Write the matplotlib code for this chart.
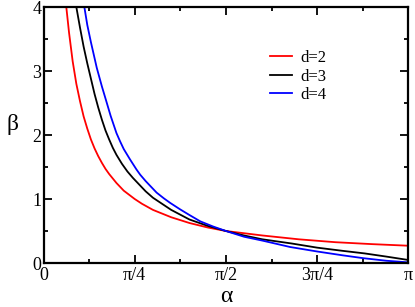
import numpy as np
import matplotlib
matplotlib.use("Agg")
import matplotlib.pyplot as plt
from matplotlib.ticker import MultipleLocator, FixedLocator

# alpha given in units of pi
t_d2 = [0.0625, 0.07, 0.08, 0.09, 0.10, 0.11, 0.12, 0.13, 0.14, 0.15, 0.16, 0.17,
        0.18, 0.20, 0.22, 0.25, 0.27, 0.30, 0.35, 0.40, 0.45, 0.50, 0.60, 0.70,
        0.80, 0.90, 1.00]
beta_d2 = [4.0, 3.6, 3.15, 2.8, 2.53, 2.29, 2.1, 1.93, 1.79, 1.67, 1.565, 1.47,
           1.39, 1.25, 1.13, 1.0, 0.925, 0.83, 0.715, 0.625, 0.555, 0.5, 0.43, 0.37,
           0.325, 0.295, 0.27]

t_d3 = [0.09, 0.10, 0.11, 0.12, 0.13, 0.14, 0.15, 0.16, 0.17, 0.18, 0.19, 0.20,
        0.215, 0.23, 0.245, 0.26, 0.28, 0.30, 0.35, 0.40, 0.45, 0.50, 0.55, 0.60,
        0.68, 0.75, 0.82, 0.88, 0.94, 1.00]
beta_d3 = [4.0, 3.68, 3.38, 3.12, 2.88, 2.64, 2.43, 2.24, 2.07, 1.93, 1.8, 1.69,
           1.55, 1.43, 1.33, 1.24, 1.12, 1.02, 0.83, 0.68, 0.58, 0.5, 0.43, 0.37,
           0.305, 0.24, 0.19, 0.15, 0.1, 0.047]

t_d4 = [0.112, 0.12, 0.13, 0.146, 0.16, 0.171, 0.184, 0.20, 0.21, 0.22, 0.237,
        0.255, 0.265, 0.28, 0.31, 0.33, 0.347, 0.374, 0.40, 0.43, 0.465, 0.50,
        0.55, 0.60, 0.676, 0.75, 0.82, 0.877, 0.94, 1.00]
beta_d4 = [4.0, 3.72, 3.45, 3.05, 2.76, 2.55, 2.3, 2.03, 1.9, 1.78, 1.62,
           1.46, 1.38, 1.28, 1.1, 1.01, 0.94, 0.84, 0.75, 0.65, 0.57, 0.5,
           0.41, 0.35, 0.25, 0.18, 0.12, 0.075, 0.035, 0.01]

labels = ["d=2", "d=3", "d=4"]
colors = ["#ff0000", "#000000", "#0000ff"]

xtick_vals = [0, 0.25, 0.5, 0.75, 1.0]
xtick_labels = ["0", "π/4", "π/2", "3π/4", "π"]

plt.rcParams['font.family'] = ['Liberation Serif', 'DejaVu Serif']

fig = plt.figure(figsize=(4.15, 3.07), dpi=100)
ax = fig.add_axes([43.5 / 415, 1 - 263 / 307, (408.3 - 43.5) / 415, (263 - 7) / 307])

for t, b, lab, c in zip([t_d2, t_d3, t_d4], [beta_d2, beta_d3, beta_d4], labels, colors):
    ax.plot(np.array(t) * np.pi, b, color=c, lw=1.3, label=lab)

ax.set_xlim(0, np.pi)
ax.set_ylim(0, 4)
ax.xaxis.set_major_locator(FixedLocator(np.array(xtick_vals) * np.pi))
ax.set_xticklabels(xtick_labels)
ax.xaxis.set_minor_locator(MultipleLocator(np.pi / 8))
ax.yaxis.set_major_locator(MultipleLocator(1))
ax.yaxis.set_minor_locator(MultipleLocator(0.5))
ax.tick_params(which='both', direction='in', top=True, right=True, width=1.3)
ax.tick_params(which='major', length=5.5, labelsize=13)
ax.tick_params(axis='x', which='major', pad=3)
ax.tick_params(axis='y', which='major', pad=1.5)
ax.tick_params(which='minor', length=3)
for s in ax.spines.values():
    s.set_linewidth(1.6)

ax.set_xlabel("α", fontsize=17, labelpad=1)
ax.set_ylabel("β", fontsize=17, rotation=0, labelpad=12)
ax.yaxis.set_label_coords(-0.085, 0.5)

ax.legend(loc='upper left', bbox_to_anchor=(262 / 415, 1 - 42 / 307),
          bbox_transform=fig.transFigure, frameon=False, fontsize=12,
          handlelength=1.3, handletextpad=0.5, labelspacing=0.15, borderpad=0)

fig.savefig("out.png", dpi=100)
